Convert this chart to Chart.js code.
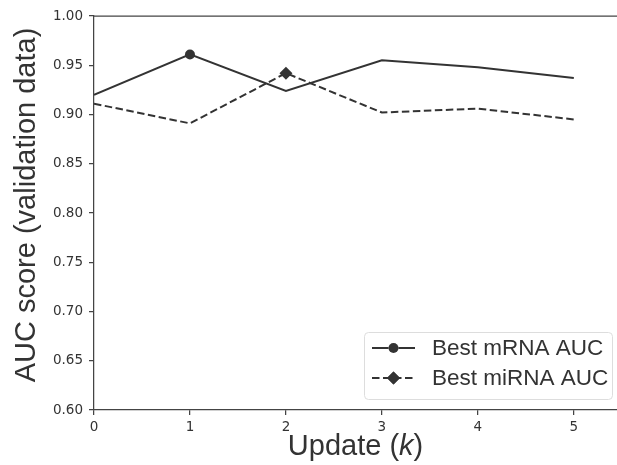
<!DOCTYPE html>
<html>
<head>
<meta charset="utf-8">
<script src="https://cdn.jsdelivr.net/npm/chart.js@4.4.1/dist/chart.umd.min.js"></script>
<style>
    html, body { margin: 0; padding: 0; background: #fff; }
    #wrap { width: 617px; height: 465px; }
</style>
</head>
<body>
<div id="wrap"><canvas id="aucChart" width="617" height="465"></canvas></div>
<script>
// Nilai yang dibaca dari gambar
const updates = [0, 1, 2, 3, 4, 5];
const mrnaAuc = [0.920, 0.961, 0.924, 0.955, 0.948, 0.937];
const mirnaAuc = [0.911, 0.891, 0.942, 0.902, 0.906, 0.895];
const xTicks = [0, 1, 2, 3, 4, 5];
const yTicks = [0.60, 0.65, 0.70, 0.75, 0.80, 0.85, 0.90, 0.95, 1.00];

const ink = '#333333';
const spine = '#444444';
const titleFont = '"Liberation Sans", Arial, sans-serif';

// Titik terbaik saja yang diberi penanda
const bestIndex = arr => arr.indexOf(Math.max(...arr));
const markerRadius = (arr, r) => arr.map((_, i) => (i === bestIndex(arr) ? r : 0));

// Garis atas (spine) seperti matplotlib
const topSpine = {
    id: 'topSpine',
    afterDraw(chart) {
        const {ctx, chartArea} = chart;
        ctx.save();
        ctx.strokeStyle = spine;
        ctx.lineWidth = 1.25;
        ctx.beginPath();
        ctx.moveTo(chartArea.left, chartArea.top);
        ctx.lineTo(chartArea.right, chartArea.top);
        ctx.stroke();
        ctx.restore();
    }
};

// Judul sumbu (k miring pada sumbu x)
const axisTitles = {
    id: 'axisTitles',
    afterDraw(chart) {
        const {ctx, chartArea} = chart;
        ctx.save();
        ctx.fillStyle = ink;
        ctx.textBaseline = 'alphabetic';

        // sumbu x: "Update (" + k miring + ")"
        const parts = [
            {t: 'Update (', f: '29px ' + titleFont},
            {t: 'k', f: 'italic 29px ' + titleFont},
            {t: ')', f: '29px ' + titleFont}
        ];
        let total = 0;
        parts.forEach(p => { ctx.font = p.f; p.w = ctx.measureText(p.t).width; total += p.w; });
        let x = (chartArea.left + chartArea.right) / 2 - total / 2;
        ctx.textAlign = 'left';
        parts.forEach(p => { ctx.font = p.f; ctx.fillText(p.t, x, 455); x += p.w; });

        // sumbu y
        ctx.translate(35, 205);
        ctx.rotate(-Math.PI / 2);
        ctx.font = '29px ' + titleFont;
        ctx.textAlign = 'center';
        ctx.fillText('AUC score (validation data)', 0, 0);
        ctx.restore();
    }
};

// Legenda dengan contoh garis + penanda
const lineLegend = {
    id: 'lineLegend',
    afterDraw(chart) {
        const {ctx} = chart;
        const box = {x: 364, y: 332, w: 248, h: 67};
        ctx.save();
        ctx.fillStyle = 'rgba(255,255,255,0.9)';
        ctx.strokeStyle = '#dddddd';
        ctx.lineWidth = 1;
        ctx.beginPath();
        ctx.roundRect(box.x + 0.5, box.y + 0.5, box.w, box.h, 4);
        ctx.fill();
        ctx.stroke();

        chart.data.datasets.forEach((ds, i) => {
            const cy = 348 + i * 30;
            ctx.strokeStyle = ds.borderColor;
            ctx.lineWidth = ds.borderWidth;
            ctx.setLineDash(ds.borderDash || []);
            ctx.beginPath();
            ctx.moveTo(372, cy);
            ctx.lineTo(415, cy);
            ctx.stroke();
            ctx.setLineDash([]);
            Chart.helpers.drawPoint(ctx, {
                pointStyle: ds.pointStyle,
                radius: ds.legendRadius,
                borderWidth: 0
            }, 393.5, cy);
            ctx.fillStyle = ink;
            ctx.fill();
            ctx.font = '22.5px ' + titleFont;
            ctx.textBaseline = 'middle';
            ctx.fillText(ds.label, 432, cy + 1);
        });
        ctx.restore();
    }
};

new Chart(document.getElementById('aucChart'), {
    type: 'line',
    data: {
        datasets: [
            {
                label: 'Best mRNA AUC',
                data: updates.map((x, i) => ({x, y: mrnaAuc[i]})),
                borderColor: ink,
                backgroundColor: ink,
                borderWidth: 2,
                pointStyle: 'circle',
                pointRadius: markerRadius(mrnaAuc, 5),
                pointBorderWidth: 0,
                legendRadius: 5,
                tension: 0
            },
            {
                label: 'Best miRNA AUC',
                data: updates.map((x, i) => ({x, y: mirnaAuc[i]})),
                borderColor: ink,
                backgroundColor: ink,
                borderWidth: 2,
                borderDash: [7.5, 3.5],
                pointStyle: 'rectRot',
                pointRadius: markerRadius(mirnaAuc, 6.5),
                pointBorderWidth: 0,
                legendRadius: 6.5,
                tension: 0
            }
        ]
    },
    options: {
        responsive: false,
        animation: false,
        events: [],
        layout: { padding: { top: 16, right: 0, left: 0, bottom: 0 } },
        plugins: {
            legend: { display: false },
            tooltip: { enabled: false }
        },
        scales: {
            x: {
                type: 'linear',
                min: 0,
                max: 5.45,
                afterBuildTicks: axis => { axis.ticks = xTicks.map(v => ({value: v})); },
                afterFit: axis => { axis.height = 55; },
                grid: { drawOnChartArea: false, tickLength: 5, color: spine, lineWidth: 1.25 },
                border: { color: spine, width: 1.25 },
                ticks: {
                    padding: 4,
                    color: ink,
                    font: { family: '"DejaVu Sans"', size: 13.5 },
                    maxRotation: 0
                }
            },
            y: {
                min: 0.6,
                max: 1.0,
                afterBuildTicks: axis => { axis.ticks = yTicks.map(v => ({value: v})); },
                afterFit: axis => { axis.width = 94; },
                grid: { drawOnChartArea: false, tickLength: 5, color: spine, lineWidth: 1.25 },
                border: { color: spine, width: 1.25 },
                ticks: {
                    padding: 6,
                    color: ink,
                    font: { family: '"DejaVu Sans"', size: 13.5 },
                    callback: v => v.toFixed(2)
                }
            }
        }
    },
    plugins: [topSpine, axisTitles, lineLegend]
});
</script>
</body>
</html>
